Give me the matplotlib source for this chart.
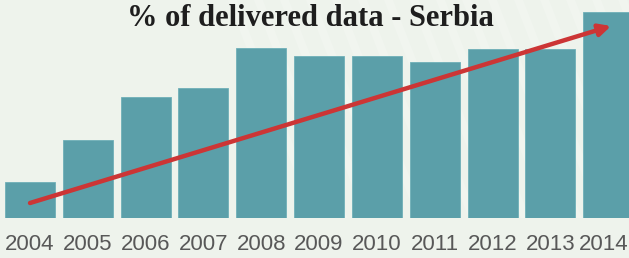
import numpy as np
from matplotlib import pyplot as plt

years = ['2004', '2005', '2006', '2007', '2008', '2009', '2010', '2011', '2012', '2013', '2014']
delivered = [36, 78, 121, 130, 170, 162, 162, 156, 169, 169, 206]

# trend arrow (start/end in data units)
trend_start = (0.0, 15)
trend_end = (10.05, 192)

bg = '#eef3ec'
bar_color = '#5b9fa9'

fig = plt.figure(figsize=(6.29, 2.58), dpi=100)
fig.patch.set_facecolor(bg)
ax = fig.add_axes([0, 0.155, 1, 0.845])
ax.set_facecolor(bg)

x = np.arange(len(years))
ax.bar(x, delivered, width=0.865, color=bar_color, edgecolor='#6fb0b8', linewidth=0.6, zorder=2)

# faint diagonal stripes in the background
for s in np.arange(3.5, 12, 0.45):
    ax.plot([s, s + 1.6], [218, -20], color='white', alpha=0.18, linewidth=6, zorder=1)

ax.annotate('', xy=trend_end, xytext=trend_start,
            arrowprops=dict(arrowstyle='-|>,head_length=0.7,head_width=0.35',
                            color='#cc3535', linewidth=3.2, shrinkA=0, shrinkB=0),
            zorder=3)

ax.set_xlim(-0.519, 10.36)
ax.set_ylim(0, 218)
ax.axis('off')

for i, y in enumerate(years):
    xp = 30 + 57.8 * i
    if i == len(years) - 1:
        xp = 604
    fig.text(xp / 629, 1 - 245 / 258, y, ha='center', va='center',
             fontsize=16, color='#585858', family='Liberation Sans')

fig.text(310 / 629, 1 - 18 / 258, '% of delivered data - Serbia', ha='center', va='center',
         fontsize=22, fontweight='bold', color='#1e1e1e', family='Liberation Serif')

plt.savefig('out.png', dpi=100, facecolor=bg)
